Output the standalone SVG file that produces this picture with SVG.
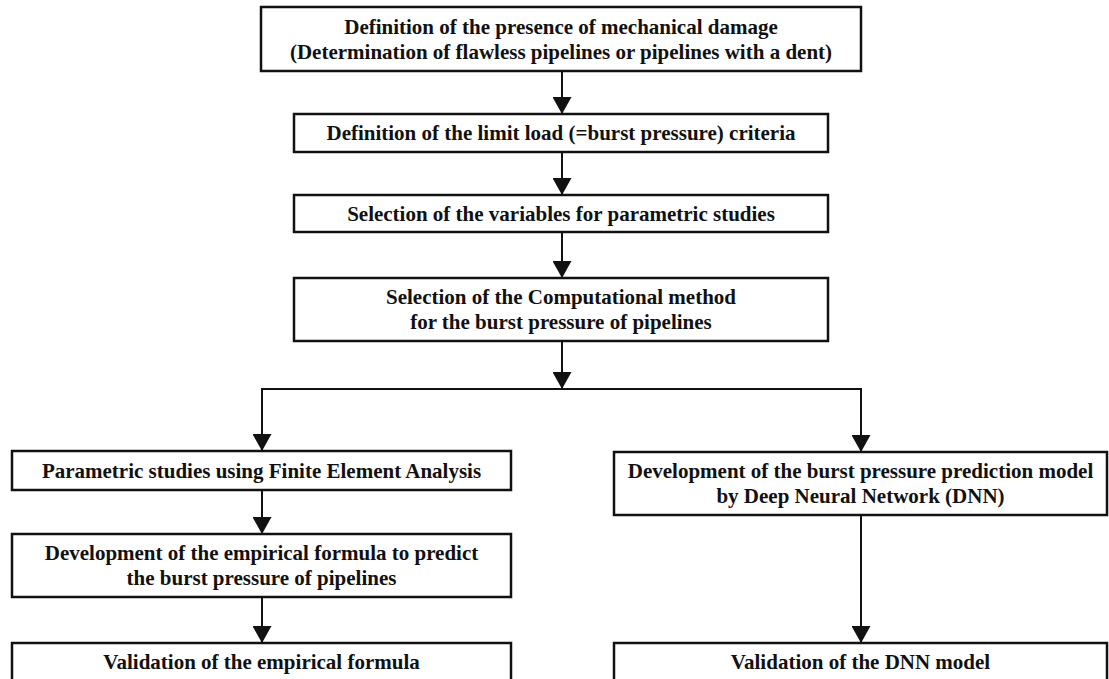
<svg xmlns="http://www.w3.org/2000/svg" width="1109" height="679" viewBox="0 0 1109 679">
<style>
.box{fill:#fff;stroke:#111;stroke-width:2.5}
.t{font-family:"Liberation Serif","Times New Roman",serif;font-weight:bold;font-size:21px;fill:#111;text-anchor:middle}
.c{fill:none;stroke:#111;stroke-width:2}
</style>
<defs>
<marker id="ah" markerUnits="userSpaceOnUse" markerWidth="17" markerHeight="19" viewBox="0 0 17 19" refX="17" refY="9.5" orient="auto">
<path d="M0,0 L17,9.5 L0,19 z" fill="#111"/>
</marker>
</defs>
<rect width="1109" height="679" fill="#fff"/>
<g id="connectors">
<line class="c" x1="562" y1="71" x2="562" y2="114" marker-end="url(#ah)"/>
<line class="c" x1="562" y1="152" x2="562" y2="195" marker-end="url(#ah)"/>
<line class="c" x1="562" y1="232" x2="562" y2="278" marker-end="url(#ah)"/>
<line class="c" x1="562" y1="341" x2="562" y2="389" marker-end="url(#ah)"/>
<line class="c" x1="261" y1="389" x2="862" y2="389"/>
<line class="c" x1="262" y1="389" x2="262" y2="451" marker-end="url(#ah)"/>
<line class="c" x1="861" y1="389" x2="861" y2="452" marker-end="url(#ah)"/>
<line class="c" x1="262" y1="490" x2="262" y2="534" marker-end="url(#ah)"/>
<line class="c" x1="262" y1="597" x2="262" y2="643" marker-end="url(#ah)"/>
<line class="c" x1="861" y1="515" x2="861" y2="643" marker-end="url(#ah)"/>
</g>
<g id="n1">
<rect class="box" x="261" y="7" width="600" height="64"/>
<text class="t" x="561" y="34">Definition of the presence of mechanical damage</text>
<text class="t" x="561" y="59">(Determination of flawless pipelines or pipelines with a dent)</text>
</g>
<g id="n2">
<rect class="box" x="294" y="114" width="534" height="38"/>
<text class="t" x="561" y="140">Definition of the limit load (=burst pressure) criteria</text>
</g>
<g id="n3">
<rect class="box" x="294" y="195" width="534" height="37"/>
<text class="t" x="561" y="220.5">Selection of the variables for parametric studies</text>
</g>
<g id="n4">
<rect class="box" x="294" y="278" width="534" height="63"/>
<text class="t" x="561" y="304">Selection of the Computational method</text>
<text class="t" x="561" y="329">for the burst pressure of pipelines</text>
</g>
<g id="l1">
<rect class="box" x="12" y="451" width="499" height="39"/>
<text class="t" x="261.5" y="477.5">Parametric studies using Finite Element Analysis</text>
</g>
<g id="l2">
<rect class="box" x="12" y="534" width="499" height="63"/>
<text class="t" x="261.5" y="560">Development of the empirical formula to predict</text>
<text class="t" x="261.5" y="585">the burst pressure of pipelines</text>
</g>
<g id="l3">
<rect class="box" x="12" y="643" width="499" height="40"/>
<text class="t" x="261.5" y="669">Validation of the empirical formula</text>
</g>
<g id="r1">
<rect class="box" x="614" y="452" width="493" height="63"/>
<text class="t" x="860.5" y="478">Development of the burst pressure prediction model</text>
<text class="t" x="860.5" y="503">by Deep Neural Network (DNN)</text>
</g>
<g id="r2">
<rect class="box" x="614" y="643" width="493" height="40"/>
<text class="t" x="860.5" y="669">Validation of the DNN model</text>
</g>
</svg>
